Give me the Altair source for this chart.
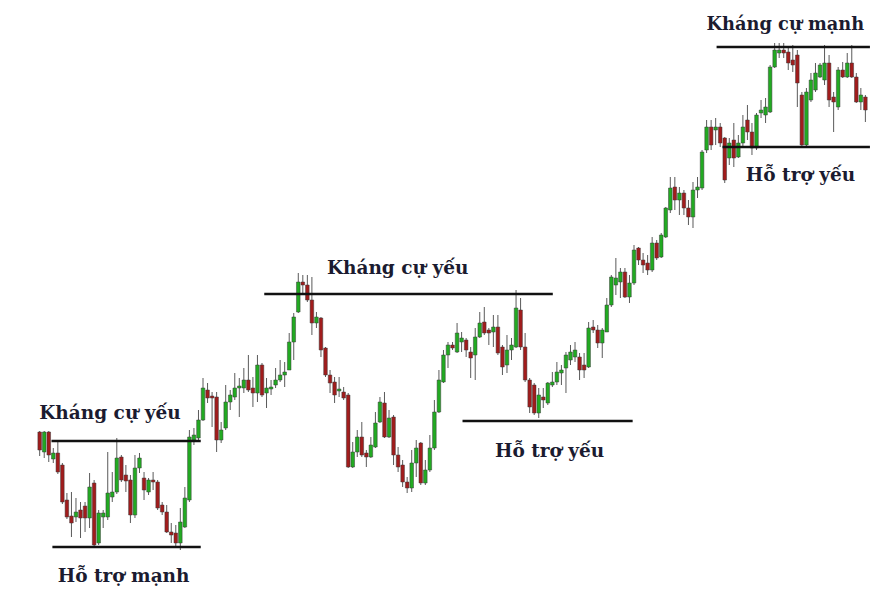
import altair as alt
import pandas as pd

# Candle values (price units)
opens = [168,148,168,141,147,135,100,84,83,90,94,82,117,57,83,83,103,108,143,125,
         120,85,132,122,108,120,118,95,88,68,67,57,73,100,160,162,180,210,204,203,
         160,172,198,203,212,212,220,212,207,235,207,211,215,220,225,230,258,288,318,315,
         300,277,282,252,225,218,209,208,205,133,148,163,147,143,153,178,197,163,183,145,
         135,118,112,137,157,117,130,152,188,218,245,255,248,258,260,248,245,263,278,270,
         268,273,253,235,250,253,290,253,220,215,187,203,197,215,218,227,232,240,243,243,
         235,233,273,270,257,268,295,315,318,328,303,317,352,340,337,330,357,343,363,390,
         413,400,407,392,383,410,412,450,473,470,473,462,442,460,443,457,480,468,452,487,
         485,488,533,547,550,548,540,545,505,455,500,510,523,520,537,503,493,530,523,537,
         523,498,503]
highs = [169,169,169,152,160,137,107,108,102,98,98,127,120,90,90,148,128,162,145,135,
         125,145,147,128,122,128,120,98,95,77,75,92,113,170,172,190,222,217,208,208,
         178,215,210,227,222,232,245,223,245,237,222,220,232,240,238,267,287,327,325,325,
         323,288,283,253,230,223,223,213,207,158,170,178,150,163,188,203,208,190,185,153,
         140,123,150,160,158,140,165,200,230,250,258,258,277,268,262,253,272,288,293,272,
         285,285,255,265,262,310,302,267,222,217,212,212,218,228,238,235,248,255,258,247,
         247,278,280,275,272,302,325,342,332,332,325,355,353,347,345,363,360,367,393,423,
         423,413,410,400,418,423,450,480,480,482,477,463,462,477,465,485,495,477,487,500,
         502,535,557,557,557,552,555,550,508,512,527,537,537,555,545,508,533,538,547,555,
         527,512,505]
lows = [144,142,138,137,126,96,81,63,78,62,68,72,53,55,72,80,98,106,118,108,
        77,82,127,100,105,110,90,85,67,57,53,50,72,98,155,160,179,197,173,148,
        157,170,190,200,183,207,208,193,198,203,192,205,212,218,213,230,240,287,307,298,
        265,272,243,223,207,197,203,200,132,132,143,143,133,142,152,177,162,162,135,128,
        113,107,108,123,115,115,128,150,187,217,232,250,247,248,243,222,220,262,265,255,
        253,245,225,227,240,252,250,218,187,185,182,192,195,213,215,215,207,235,238,220,
        222,232,267,252,242,268,293,305,302,302,297,315,335,327,325,328,340,342,362,387,
        390,385,385,375,372,402,410,447,450,455,453,417,435,433,442,453,460,445,450,482,
        477,487,532,542,542,530,528,493,453,453,498,508,522,515,493,468,490,522,522,522,
        497,490,478]
closes = [150,168,145,147,128,98,83,77,88,82,82,113,55,87,87,107,108,142,120,119,
          85,132,142,110,120,118,92,88,68,65,57,78,102,163,165,180,212,202,202,160,
          170,198,205,212,214,220,210,207,235,205,212,213,220,225,228,258,283,318,315,300,
          277,283,250,225,217,205,211,202,133,148,163,145,143,155,177,198,163,182,145,133,
          118,112,137,152,117,130,152,188,220,245,255,252,267,262,250,242,263,277,267,267,
          273,247,233,250,255,292,253,220,193,187,205,200,217,218,228,230,245,248,250,230,
          230,272,270,257,270,295,323,322,328,303,317,350,340,335,330,357,342,365,392,412,
          400,407,392,383,410,413,448,473,455,473,457,420,457,442,457,473,468,452,485,490,
          493,533,550,550,547,537,535,517,455,508,520,527,535,537,500,498,530,523,537,523,
          498,505,490]

# Support / resistance annotations (level, start index, end index, label)
levels = [159, 53, 306, 179, 553, 453]
line_start = [2.6, 2.8, 49.5, 93.2, 149.2, 150.5]
line_end = [35.5, 35.5, 113.1, 130.7, 183.0, 183.0]

labels = ["Kháng cự yếu", "Hỗ trợ mạnh", "Kháng cự yếu", "Hỗ trợ yếu", "Kháng cự mạnh", "Hỗ trợ yếu"]
label_x = [15.5, 18.5, 78.9, 112.4, 147.0, 167.7]
label_y = [187, 24, 332, 149, 575, 425]
label_align = ["center", "center", "center", "center", "left", "center"]
label_size = [18.5, 18.5, 18.5, 18.5, 17.8, 18.5]

n = len(opens)
df = pd.DataFrame({
    "i": list(range(n)),
    "open": opens, "high": highs, "low": lows, "close": closes,
})
df["dir"] = ["up" if c >= o else "down" for o, c in zip(opens, closes)]

lines_df = pd.DataFrame({"level": levels, "x1": line_start, "x2": line_end})
text_df = pd.DataFrame({"label": labels, "x": label_x, "y": label_y,
                        "align": label_align, "size": label_size})

W, H = 863, 584
xs = alt.Scale(domain=[-5.882, -5.882 + W / 4.59], nice=False, zero=False)
ys = alt.Scale(domain=[8, 592], nice=False, zero=False)

base = alt.Chart(df)

wicks = base.mark_rule(color="#5a5a5a", strokeWidth=1, clip=True).encode(
    x=alt.X("i:Q", scale=xs, axis=None),
    y=alt.Y("low:Q", scale=ys, axis=None),
    y2="high:Q",
)

bodies = base.mark_bar(size=3.6, stroke="#3a3a3a", strokeWidth=0.5, clip=True).encode(
    x=alt.X("i:Q", scale=xs, axis=None),
    y=alt.Y("open:Q", scale=ys, axis=None),
    y2="close:Q",
    color=alt.Color("dir:N", scale=alt.Scale(domain=["up", "down"], range=["#22aa22", "#a11c1c"]), legend=None),
)

hlines = alt.Chart(lines_df).mark_rule(color="#111111", strokeWidth=2.5, clip=True).encode(
    x=alt.X("x1:Q", scale=xs, axis=None),
    x2="x2:Q",
    y=alt.Y("level:Q", scale=ys, axis=None),
)

def text_layer(align):
    return alt.Chart(text_df[text_df["align"] == align]).mark_text(
        font="DejaVu Serif", fontWeight="bold", color="#1b1b30",
        align=align, baseline="middle",
    ).encode(
        x=alt.X("x:Q", scale=xs, axis=None),
        y=alt.Y("y:Q", scale=ys, axis=None),
        size=alt.Size("size:Q", scale=None, legend=None),
        text="label:N",
    )

chart = alt.layer(wicks, bodies, hlines, text_layer("center"), text_layer("left")).properties(
    width=W, height=H,
    autosize=alt.AutoSizeParams(type="none"),
    padding=0,
    background="white",
).configure_view(stroke=None, strokeWidth=0)

chart.save("out.html", embed_options={"renderer": "svg", "actions": False})
